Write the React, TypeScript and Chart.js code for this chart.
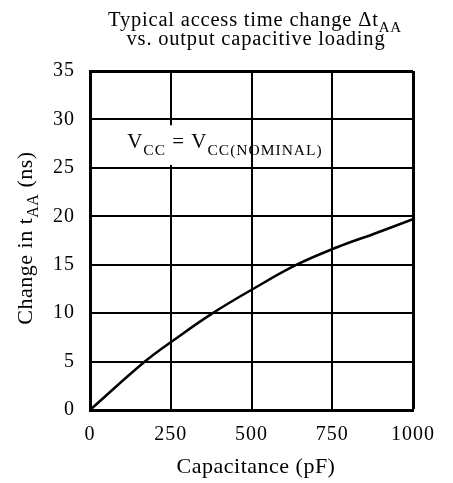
import React, { useEffect, useRef } from "react";
import { Chart, registerables } from "chart.js";
Chart.register(...registerables);

const capacitance = [0, 170, 263, 380, 510, 640, 765, 880, 1000];
const deltaTaa = [0, 5, 7.3, 10, 12.6, 15, 16.8, 18.2, 19.7];
const xTicks = [0, 250, 500, 750, 1000];
const yTicks = [0, 5, 10, 15, 20, 25, 30, 35];

const titleLine1 = "Typical access time change \u0394t";
const titleLine1Sub = "AA";
const titleLine2 = "vs. output capacitive loading";
const xTitle = "Capacitance (pF)";
const yTitleMain = "Change in t";
const yTitleSub = "AA";
const yTitleEnd = " (ns)";
const noteMain1 = "V";
const noteSub1 = "CC";
const noteMain2 = " = V";
const noteSub2 = "CC(NOMINAL)";

const FONT = '"Liberation Serif", "DejaVu Serif", serif';

type Seg = { t: string; sub?: boolean };

function drawRich(
  ctx: any,
  segs: Seg[],
  x: number,
  y: number,
  size: number,
  subSize: number,
  subShift: number,
  spacing: number,
  align: "center" | "left"
) {
  ctx.letterSpacing = spacing + "px";
  const widths = segs.map((s) => {
    ctx.font = `${s.sub ? subSize : size}px ${FONT}`;
    return ctx.measureText(s.t).width;
  });
  const total = widths.reduce((a, b) => a + b, 0);
  let cx = align === "center" ? x - total / 2 : x;
  ctx.textAlign = "left";
  ctx.textBaseline = "alphabetic";
  segs.forEach((s, i) => {
    ctx.font = `${s.sub ? subSize : size}px ${FONT}`;
    ctx.fillText(s.t, cx, s.sub ? y + subShift : y);
    cx += widths[i];
  });
}

const textPlugin = {
  id: "texts",
  beforeDraw(chart: any) {
    (chart.ctx as any).letterSpacing = "1px";
  },
  beforeDatasetsDraw(chart: any) {
    const { ctx, scales } = chart;
    const x = scales.x, y = scales.y;
    ctx.save();
    ctx.fillStyle = "#fff";
    const l = x.getPixelForValue(60), r = x.getPixelForValue(420);
    const t = y.getPixelForValue(29.4), b = y.getPixelForValue(25.3);
    ctx.fillRect(l, t, r - l, b - t);
    ctx.restore();
  },
  afterDraw(chart: any) {
    const { ctx, scales } = chart;
    const x = scales.x, y = scales.y;
    ctx.save();
    ctx.fillStyle = "#000";
    drawRich(ctx, [{ t: titleLine1 }, { t: titleLine1Sub, sub: true }], 255, 26, 20.5, 15, 5.5, 0.8, "center");
    drawRich(ctx, [{ t: titleLine2 }], 256, 45, 20.5, 15, 5.5, 0.8, "center");
    drawRich(ctx, [{ t: xTitle }], 256, 473, 22, 16, 6, 0.5, "center");
    drawRich(
      ctx,
      [{ t: noteMain1 }, { t: noteSub1, sub: true }, { t: noteMain2 }, { t: noteSub2, sub: true }],
      x.getPixelForValue(115),
      y.getPixelForValue(27.0),
      21,
      15.5,
      7,
      1,
      "left"
    );
    ctx.translate(32, 238);
    ctx.rotate(-Math.PI / 2);
    drawRich(ctx, [{ t: yTitleMain }, { t: yTitleSub, sub: true }, { t: yTitleEnd }], 0, 0, 22, 16, 6, 0.5, "center");
    ctx.restore();
  },
};

export default function App() {
  const ref = useRef<HTMLCanvasElement>(null);
  useEffect(() => {
    if (!ref.current) return;
    const chart = new Chart(ref.current, {
      type: "line",
      data: {
        datasets: [
          {
            data: capacitance.map((c, i) => ({ x: c, y: deltaTaa[i] })),
            borderColor: "#000",
            borderWidth: 2.5,
            pointRadius: 0,
            tension: 0.4,
            fill: false,
          },
        ],
      },
      options: {
        animation: false,
        responsive: true,
        maintainAspectRatio: false,
        layout: { padding: { top: 71, right: 40, left: 0, bottom: 0 } },
        plugins: { legend: { display: false }, tooltip: { enabled: false }, title: { display: false } },
        scales: {
          x: {
            type: "linear",
            min: 0,
            max: 1000,
            afterBuildTicks: (s: any) => {
              s.ticks = xTicks.map((v) => ({ value: v }));
            },
            afterFit: (s: any) => {
              s.height = 73;
            },
            grid: {
              color: "#000",
              lineWidth: (c: any) => (c.tick && c.tick.value === 1000 ? 3 : 2),
              drawTicks: false,
            },
            border: { color: "#000", width: 3 },
            ticks: {
              color: "#000",
              font: { family: FONT, size: 20 },
              padding: 13,
              maxRotation: 0,
              autoSkip: false,
              callback: (v: any) => String(v),
            },
          },
          y: {
            type: "linear",
            min: 0,
            max: 35,
            afterBuildTicks: (s: any) => {
              s.ticks = yTicks.map((v) => ({ value: v }));
            },
            afterFit: (s: any) => {
              s.width = 90;
            },
            grid: {
              color: "#000",
              lineWidth: (c: any) => (c.tick && c.tick.value === 35 ? 3 : 2),
              drawTicks: false,
            },
            border: { color: "#000", width: 3 },
            ticks: {
              color: "#000",
              font: { family: FONT, size: 20 },
              padding: 15,
              autoSkip: false,
              callback: (v: any) => String(v),
            },
          },
        },
      },
      plugins: [textPlugin],
    } as any);
    return () => chart.destroy();
  }, []);
  return (
    <div style={{ position: "absolute", left: 0, top: 0, width: 453, height: 483, background: "#fff" }}>
      <canvas ref={ref} style={{ width: "100%", height: "100%" }} />
    </div>
  );
}
